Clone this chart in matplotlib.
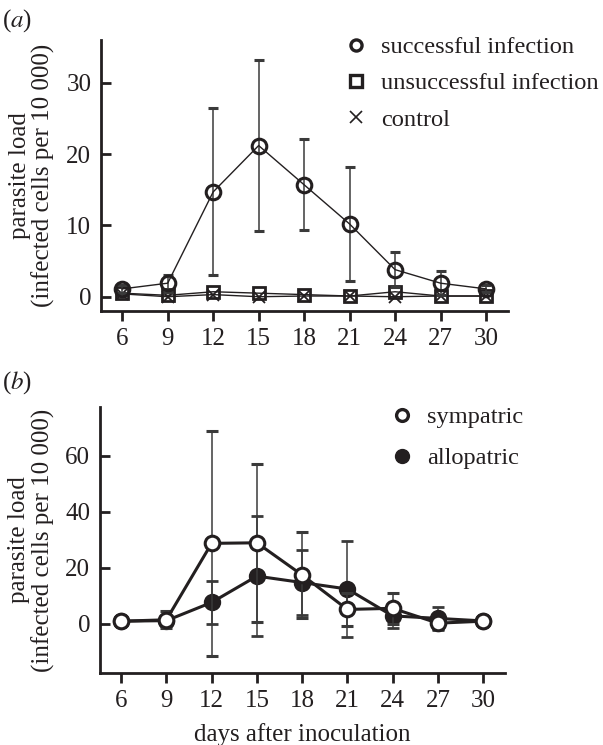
import matplotlib
matplotlib.use('Agg')
import matplotlib.pyplot as plt
from matplotlib.lines import Line2D

plt.rcParams['font.family'] = ['Liberation Serif', 'STIXGeneral', 'DejaVu Serif']
plt.rcParams['mathtext.fontset'] = 'stix'
plt.rcParams['font.size'] = 18

INK = '#231f20'
FS = 18
LEG_FS = 17.6

days = [6, 9, 12, 15, 18, 21, 24, 27, 30]

# panel (a)
successful = [1.1, 1.9, 14.7, 21.2, 15.7, 10.2, 3.8, 1.9, 1.1]
successful_err = [0.6, 1.2, 11.7, 12.0, 6.4, 8.0, 2.5, 1.7, 0.5]
unsuccessful = [0.5, 0.2, 0.7, 0.5, 0.3, 0.1, 0.7, 0.1, 0.1]
control = [0.4, 0.0, 0.3, 0.0, 0.1, 0.1, 0.0, 0.1, 0.1]

# panel (b)
sympatric = [1.0, 1.5, 28.8, 29.0, 17.5, 5.2, 5.6, 0.3, 1.0]
sympatric_err = [0.0, 3.0, 40.3, 28.3, 15.4, 5.9, 5.6, 2.0, 0.0]
allopatric = [1.0, 1.2, 7.7, 17.1, 14.8, 12.5, 2.9, 2.0, 1.1]
allopatric_err = [0.0, 1.0, 7.7, 21.3, 11.6, 17.0, 4.3, 4.0, 0.0]

ylabel = 'parasite load\n(infected cells per 10 000)'

W, H = 603, 745
fig = plt.figure(figsize=(W / 100, H / 100), dpi=100)


def px_axes(left, top, right, bottom):
    return fig.add_axes([left / W, 1 - bottom / H, (right - left) / W, (bottom - top) / H])


def style_axes(ax):
    for side in ['top', 'right']:
        ax.spines[side].set_visible(False)
    for side in ['left', 'bottom']:
        ax.spines[side].set_linewidth(2.0)
        ax.spines[side].set_color(INK)
    ax.tick_params(axis='x', direction='out', length=7, width=2, pad=5, colors=INK, labelsize=FS)
    ax.tick_params(axis='y', direction='in', length=7, width=2, pad=7, colors=INK, labelsize=FS)
    ax.set_xticks(days)
    ax.set_xlim(4.6, 31.45)
    ax.set_ylabel(ylabel, fontsize=FS, color=INK, linespacing=1.05)
    ax.yaxis.set_label_coords(-0.112, 0.5)


def marker_handle(**kw):
    return Line2D([], [], linestyle='none', color=INK, **kw)


def add_legend(ax, handles, labels, left, top, spacing):
    ax.legend(handles, labels, loc='upper left',
              bbox_to_anchor=(left / W, 1 - top / H), bbox_transform=fig.transFigure,
              frameon=False, handlelength=1.0, handletextpad=0.5, labelspacing=spacing,
              borderpad=0, borderaxespad=0, fontsize=LEG_FS, labelcolor=INK)


# ---- (a)
ax1 = px_axes(101, 40, 508, 311)
style_axes(ax1)
ax1.set_ylim(-2, 36)
ax1.set_yticks([0, 10, 20, 30])

ax1.plot(days, control, color=INK, lw=1.0, marker='x', ms=9, mew=1.3, zorder=3)
ax1.plot(days, unsuccessful, color=INK, lw=1.0, marker='s', ms=9, mew=2, mfc='none', zorder=4)
ax1.errorbar(days, successful, yerr=successful_err, color=INK, lw=1.0, marker='o', ms=10.5,
             mew=2.2, mfc='none', ecolor='#3a3a3a', elinewidth=1.1, capsize=3.8, capthick=1.1,
             zorder=5)

add_legend(ax1,
           [marker_handle(marker='o', ms=8, mew=2.4, mfc='none'),
            marker_handle(marker='s', ms=8, mew=2.4, mfc='none'),
            marker_handle(marker='x', ms=8.5, mew=1.2)],
           ['successful infection', 'unsuccessful infection', 'control'],
           344, 36, 0.58)

# ---- (b)
ax2 = px_axes(100, 407, 505, 673)
style_axes(ax2)
ax2.set_ylim(-17.5, 77.5)
ax2.set_yticks([0, 20, 40, 60])

ax2.errorbar(days, allopatric, yerr=allopatric_err, color=INK, lw=2.2, marker='o', ms=10.5,
             mew=2, mfc=INK, ecolor='#3a3a3a', elinewidth=1.1, capsize=4, capthick=1.1,
             zorder=4)
ax2.errorbar(days, sympatric, yerr=sympatric_err, color=INK, lw=2.2, marker='o', ms=10.5,
             mew=2.2, mfc='white', ecolor='#3a3a3a', elinewidth=1.1, capsize=4, capthick=1.1,
             zorder=5)
ax2.set_xlabel('days after inoculation', fontsize=FS, color=INK, labelpad=8)

add_legend(ax2,
           [marker_handle(marker='o', ms=8.5, mew=2.4, mfc='white'),
            marker_handle(marker='o', ms=10, mew=1, mfc=INK)],
           ['sympatric', 'allopatric'],
           390, 406, 0.78)

fig.text(2 / W, 1 - 21 / H, r'($a$)', fontsize=FS, color=INK, va='center', ha='left')
fig.text(2 / W, 1 - 383 / H, r'($b$)', fontsize=FS, color=INK, va='center', ha='left')

fig.savefig('out.png', dpi=100)
